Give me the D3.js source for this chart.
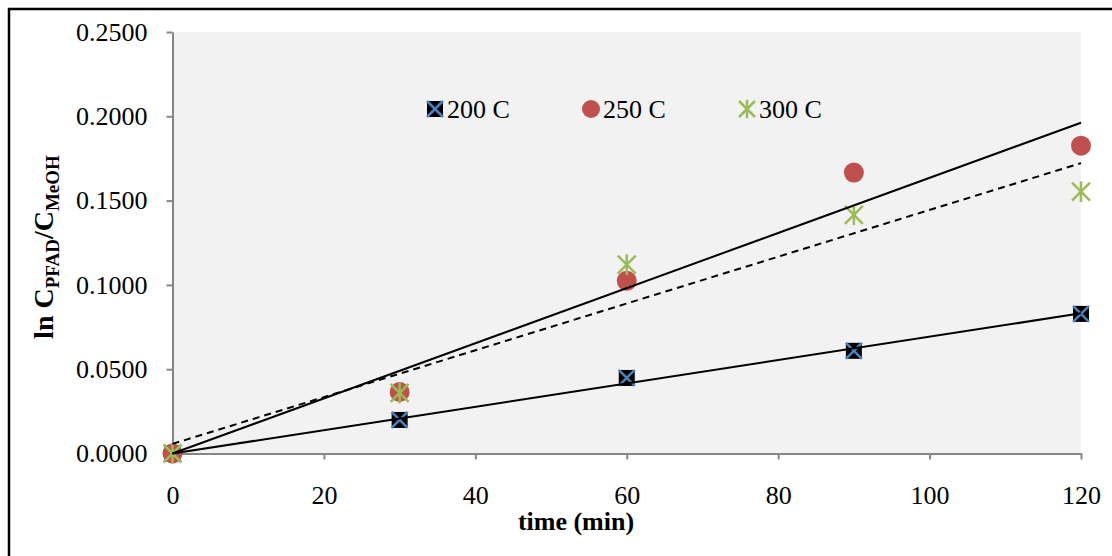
<!DOCTYPE html>
<html>
<head>
<meta charset="utf-8">
<script src="https://cdn.jsdelivr.net/npm/d3@7"></script>
<style>
  body { margin: 0; background: #fff; }
  svg { display: block; font-family: "Liberation Serif", "Times New Roman", serif; }
</style>
</head>
<body>
<svg id="chart"></svg>
<script>
var W = 1112, H = 556;

// data
var times = [0, 30, 60, 90, 120];
var s200 = [0, 0.0199, 0.0448, 0.0609, 0.0828];
var s250 = [0, 0.0365, 0.1024, 0.1666, 0.1826];
var s300 = [0, 0.0359, 0.1120, 0.1416, 0.1553];
var xTicks = [0, 20, 40, 60, 80, 100, 120];
var yTicks = [0, 0.05, 0.10, 0.15, 0.20, 0.25];
var seriesNames = ["200 C", "250 C", "300 C"];

var svg = d3.select("#chart")
    .attr("width", W)
    .attr("height", H);

// outer frame (clipped at right/bottom like the source)
svg.append("rect")
    .attr("x", 9).attr("y", 9)
    .attr("width", 1300).attr("height", 700)
    .attr("fill", "#fff")
    .attr("stroke", "#000")
    .attr("stroke-width", 2.5);

var x = d3.scaleLinear().domain([0, 120]).range([172.5, 1081]);
var y = d3.scaleLinear().domain([0, 0.25]).range([453.5, 32]);

// plot area
svg.append("rect")
    .attr("x", x(0)).attr("y", y(0.25))
    .attr("width", x(120) - x(0))
    .attr("height", y(0) - y(0.25))
    .attr("fill", "#f2f2f2");

var yAxis = svg.append("g")
    .attr("transform", "translate(" + x(0) + ",0)")
    .call(d3.axisLeft(y).tickValues(yTicks).tickFormat(d3.format(".4f"))
        .tickSize(6).tickSizeOuter(0).tickPadding(19));

var xAxis = svg.append("g")
    .attr("transform", "translate(0," + y(0) + ")")
    .call(d3.axisBottom(x).tickValues(xTicks).tickFormat(d3.format("d"))
        .tickSize(6).tickSizeOuter(0).tickPadding(26));

[yAxis, xAxis].forEach(function(g) {
    g.selectAll("path, line").attr("stroke", "#868686").attr("stroke-width", 2);
    g.selectAll("text")
        .attr("font-family", "Liberation Serif, Times New Roman, serif")
        .attr("font-size", 26)
        .attr("fill", "#000");
});

// axis titles
svg.append("text")
    .attr("x", 576).attr("y", 530)
    .attr("text-anchor", "middle")
    .attr("font-size", 26)
    .attr("font-weight", "bold")
    .text("time (min)");

var yt = svg.append("text")
    .attr("transform", "translate(53,247) rotate(-90)")
    .attr("text-anchor", "middle")
    .attr("font-size", 28)
    .attr("font-weight", "bold");
yt.append("tspan").text("ln C");
yt.append("tspan").attr("font-size", 19).attr("dy", 6).text("PFAD");
yt.append("tspan").attr("dy", -6).text("/C");
yt.append("tspan").attr("font-size", 19).attr("dy", 6).text("MeOH");

// trend lines
function fitOrigin(xs, ys) {
    var sxy = d3.sum(xs, function(v, i) { return v * ys[i]; });
    var sxx = d3.sum(xs, function(v) { return v * v; });
    return { a: 0, b: sxy / sxx };
}
function fitOls(xs, ys) {
    var mx = d3.mean(xs), my = d3.mean(ys);
    var sxy = d3.sum(xs, function(v, i) { return (v - mx) * (ys[i] - my); });
    var sxx = d3.sum(xs, function(v) { return (v - mx) * (v - mx); });
    var b = sxy / sxx;
    return { a: my - b * mx, b: b };
}

function star(g, s, color, w) {
    g.append("line").attr("x1", -s).attr("y1", -s).attr("x2", s).attr("y2", s);
    g.append("line").attr("x1", -s).attr("y1", s).attr("x2", s).attr("y2", -s);
    g.append("line").attr("x1", 0).attr("y1", -s * 1.15).attr("x2", 0).attr("y2", s * 1.15);
    g.selectAll("line").attr("stroke", color).attr("stroke-width", w);
}
function boxX(g, s) {
    g.append("rect").attr("x", -s).attr("y", -s).attr("width", 2 * s).attr("height", 2 * s).attr("fill", "#000");
    g.append("line").attr("x1", -s).attr("y1", -s).attr("x2", s).attr("y2", s);
    g.append("line").attr("x1", -s).attr("y1", s).attr("x2", s).attr("y2", -s);
    g.selectAll("line").attr("stroke", "#4f81bd").attr("stroke-width", 2.5);
}

var pts = function(vals) { return times.map(function(t, i) { return [t, vals[i]]; }); };

// markers
svg.append("g").selectAll("g").data(pts(s200)).enter().append("g")
    .attr("transform", function(d) { return "translate(" + x(d[0]) + "," + y(d[1]) + ")"; })
    .each(function() { boxX(d3.select(this), 8); });

svg.append("g").selectAll("circle").data(pts(s250)).enter().append("circle")
    .attr("cx", function(d) { return x(d[0]); })
    .attr("cy", function(d) { return y(d[1]); })
    .attr("r", 10)
    .attr("fill", "#c0504d");

svg.append("g").selectAll("g").data(pts(s300)).enter().append("g")
    .attr("transform", function(d) { return "translate(" + x(d[0]) + "," + y(d[1]) + ")"; })
    .each(function() { star(d3.select(this), 9, "#9bbb59", 2.5); });

var fits = [
    { f: fitOrigin(times, s200), dash: null },
    { f: fitOrigin(times, s250), dash: null },
    { f: fitOls(times, s300), dash: "7,5" }
];

var line = d3.line().x(function(d) { return x(d[0]); }).y(function(d) { return y(d[1]); });
fits.forEach(function(t) {
    svg.append("path")
        .datum([[0, t.f.a], [120, t.f.a + t.f.b * 120]])
        .attr("d", line)
        .attr("fill", "none")
        .attr("stroke", "#000")
        .attr("stroke-width", 2)
        .attr("stroke-dasharray", t.dash);
});

// legend
var legX = [435, 591, 747];
var leg = svg.append("g").selectAll("g").data(seriesNames).enter().append("g")
    .attr("transform", function(d, i) { return "translate(" + legX[i] + ",109)"; });
leg.each(function(d, i) {
    var g = d3.select(this);
    if (i === 0) boxX(g, 8);
    else if (i === 1) g.append("circle").attr("r", 9).attr("fill", "#c0504d");
    else star(g, 8, "#9bbb59", 2.5);
});
leg.append("text")
    .attr("x", 12).attr("y", 9)
    .attr("font-size", 26)
    .text(function(d) { return d; });
</script>
</body>
</html>
